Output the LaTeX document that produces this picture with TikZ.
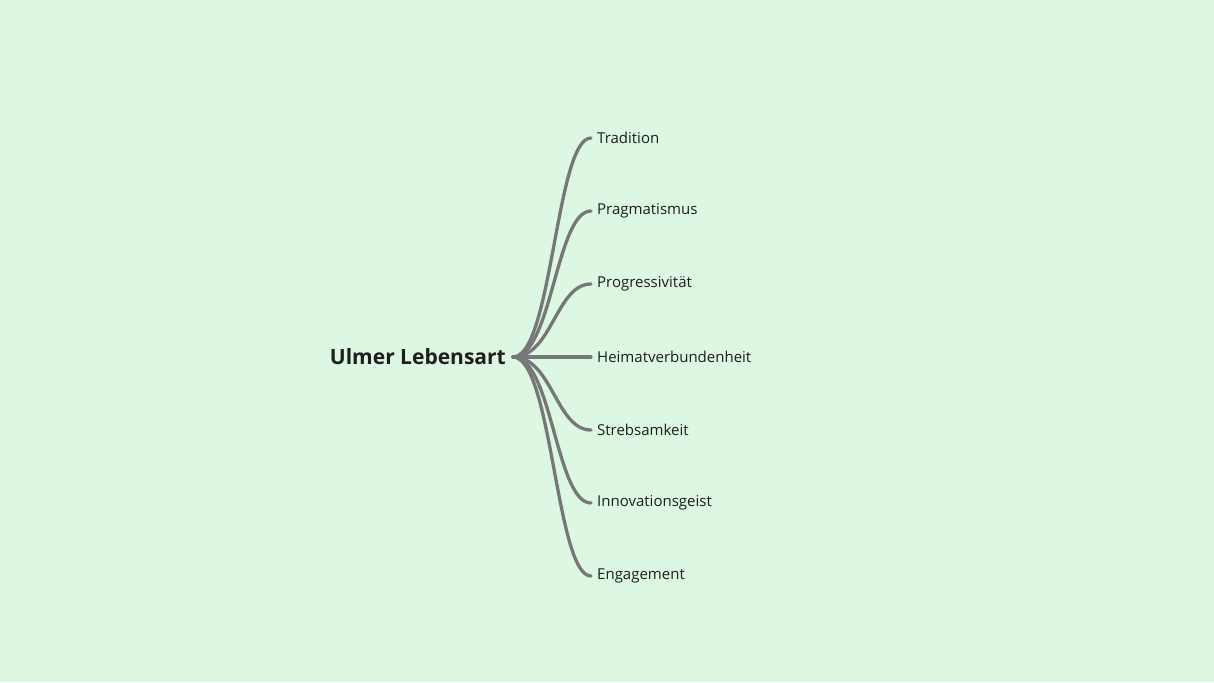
\documentclass[tikz,border=0pt]{standalone}
\usepackage{fontspec}
\setmainfont{Open Sans}
\definecolor{bg}{HTML}{DCF7E2}
\definecolor{edge}{HTML}{777777}
\definecolor{txt}{HTML}{1E1E1E}
\begin{document}
\begin{tikzpicture}[x=1pt,y=-1pt,
  leaf/.style={anchor=west,inner sep=0pt,font=\fontsize{15}{17}\selectfont,text=txt},
  link/.style={draw=edge,line width=3.3pt,line cap=round}]
\fill[bg] (0,0) rectangle (1214,682);
\useasboundingbox (0,0) rectangle (1214,682);
\node[anchor=east,inner sep=0pt,font=\fontsize{21}{24}\selectfont\bfseries,text=txt] (root) at (506,357) {Ulmer Lebensart};
\coordinate (hub) at (513,357);
\foreach \n/\y/\t in {a/138/Tradition,b/211/Pragmatismus,c/284/Progressivität,d/357/Heimatverbundenheit,e/430/Strebsamkeit,f/503/Innovationsgeist,g/576/Engagement}{
  \coordinate (e\n) at (591,\y);
  \node[leaf] (\n) at (597,\y) {\t};
  \draw[link] (hub) .. controls (552,357) and (556,\y) .. (e\n);
}
\end{tikzpicture}
\end{document}
